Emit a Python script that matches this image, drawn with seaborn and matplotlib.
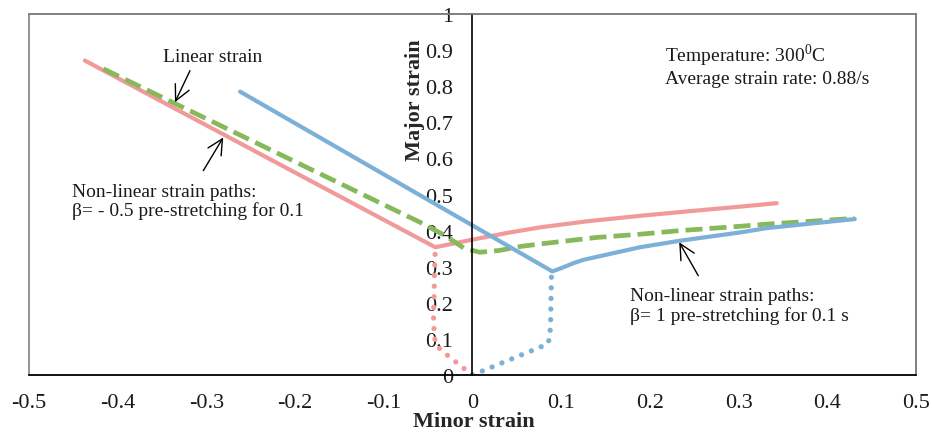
import seaborn as sns
import matplotlib.pyplot as plt
import pandas as pd

# minor / major strain
pink_x = [-0.437, -0.042, 0.0, 0.04, 0.076, 0.13, 0.189, 0.25, 0.30, 0.343]
pink_y = [0.871, 0.354, 0.375, 0.394, 0.409, 0.426, 0.441, 0.455, 0.466, 0.476]
pink_pre_x = [0.0, -0.009, -0.036, -0.042, -0.044, -0.043, -0.042]
pink_pre_y = [0.0, 0.017, 0.07, 0.09, 0.146, 0.257, 0.354]

blue_x = [-0.262, 0.090, 0.100, 0.114, 0.125, 0.145, 0.189, 0.234, 0.302, 0.332, 0.431]
blue_y = [0.785, 0.287, 0.296, 0.310, 0.319, 0.330, 0.354, 0.372, 0.395, 0.407, 0.432]
blue_pre_x = [0.0, 0.010, 0.085, 0.087, 0.088, 0.089, 0.090]
blue_pre_y = [0.0, 0.010, 0.086, 0.104, 0.137, 0.275, 0.287]

green_x = [-0.416, -0.059, -0.03, -0.01, 0.008, 0.03, 0.054, 0.076, 0.14, 0.189, 0.234, 0.302, 0.332, 0.431]
green_y = [0.848, 0.423, 0.385, 0.352, 0.340, 0.345, 0.356, 0.363, 0.381, 0.390, 0.400, 0.412, 0.418, 0.434]

x_ticks = [-0.5, -0.4, -0.3, -0.2, -0.1, 0.0, 0.1, 0.2, 0.3, 0.4, 0.5]
x_labels = ["-0.5", "-0.4", "-0.3", "-0.2", "-0.1", "0", "0.1", "0.2", "0.3", "0.4", "0.5"]
y_ticks = [0.0, 0.1, 0.2, 0.3, 0.4, 0.5, 0.6, 0.7, 0.8, 0.9, 1.0]
y_labels = ["0", "0.1", "0.2", "0.3", "0.4", "0.5", "0.6", "0.7", "0.8", "0.9", "1"]

PINK = "#f19a9a"
BLUE = "#7cb0d6"
GREEN = "#86b95a"

sns.set_theme(style="white")
plt.rcParams["font.family"] = ["Liberation Serif", "DejaVu Serif"]
plt.rcParams["mathtext.fontset"] = "custom"
plt.rcParams["mathtext.rm"] = "Liberation Serif"

fig = plt.figure(figsize=(9.32, 4.35), dpi=100)
ax = fig.add_axes([0.0311, 0.1356, 0.9517, 0.8299])

dots = dict(linestyle=(0, (0.01, 2.0)), dash_capstyle="round", lw=3.8)
sns.lineplot(x=pink_pre_x, y=pink_pre_y, sort=False, estimator=None, color=PINK, ax=ax, **dots)
sns.lineplot(x=blue_pre_x, y=blue_pre_y, sort=False, estimator=None, color=BLUE, ax=ax, **dots)
sns.lineplot(x=pink_x, y=pink_y, sort=False, estimator=None, color=PINK, lw=3, ax=ax)
sns.lineplot(x=green_x, y=green_y, sort=False, estimator=None, color=GREEN, lw=3.4,
             linestyle=(0, (3.6, 1.5)), ax=ax)
sns.lineplot(x=blue_x, y=blue_y, sort=False, estimator=None, color=BLUE, lw=3, ax=ax)

ax.set_xlim(-0.5, 0.5)
ax.set_ylim(0, 1)
ax.set_xticks(x_ticks)
ax.set_xticklabels(x_labels)
ax.set_yticks(y_ticks)
ax.set_yticklabels(y_labels)

# y axis sits at minor strain = 0, outer frame around the plot
ax.spines["left"].set_position(("data", 0))
ax.spines["left"].set_color("black")
ax.spines["bottom"].set_color("black")
for s in ["top", "right"]:
    ax.spines[s].set_color("#808080")
for s in ax.spines.values():
    s.set_linewidth(1.2)
ax.add_patch(plt.Rectangle((0, 0), 1, 1, transform=ax.transAxes, fill=False,
                           ec="#808080", lw=1.2, clip_on=False, zorder=0))

ax.tick_params(axis="x", direction="in", length=5, width=1, pad=13, labelsize=16, colors="black")
ax.tick_params(axis="y", direction="in", length=6, width=1, pad=14, labelsize=16, colors="black")
ax.tick_params(axis="both", labelcolor="#1a1a1a")

ax.set_xlabel("Minor strain", fontsize=16, fontweight="bold")
ax.set_ylabel("Major strain", fontsize=16, fontweight="bold")
ax.xaxis.set_label_coords(0.501, -0.1)
ax.yaxis.set_label_coords(0.4465, 0.765)

arrow = dict(arrowstyle="->,head_length=1.1,head_width=0.55", lw=1, color="black", mutation_scale=10,
             shrinkA=0, shrinkB=0)
ax.annotate("", xy=(-0.3354, 0.7557), xytext=(-0.3185, 0.843), arrowprops=arrow)
ax.annotate("", xy=(-0.281, 0.658), xytext=(-0.3035, 0.566), arrowprops=arrow)
ax.annotate("", xy=(0.2331, 0.3676), xytext=(0.2546, 0.275), arrowprops=arrow)

ax.text(-0.2925, 0.881, "Linear strain", fontsize=14, ha="center", va="center", color="#1a1a1a")
ax.text(-0.4515, 0.482, "Non-linear strain paths:\nβ= - 0.5 pre-stretching for 0.1",
        fontsize=14, ha="left", va="center", linespacing=1.1, color="#1a1a1a")
ax.text(0.1776, 0.1925, "Non-linear strain paths:\nβ= 1 pre-stretching for 0.1 s",
        fontsize=14, ha="left", va="center", linespacing=1.1, color="#1a1a1a")
ax.text(0.217, 0.8615, "Temperature: 300$^\\mathregular{0}$C\nAverage strain rate: 0.88/s",
        fontsize=14, ha="left", va="center", linespacing=1.2, color="#1a1a1a")

plt.savefig("out.png", dpi=100)
